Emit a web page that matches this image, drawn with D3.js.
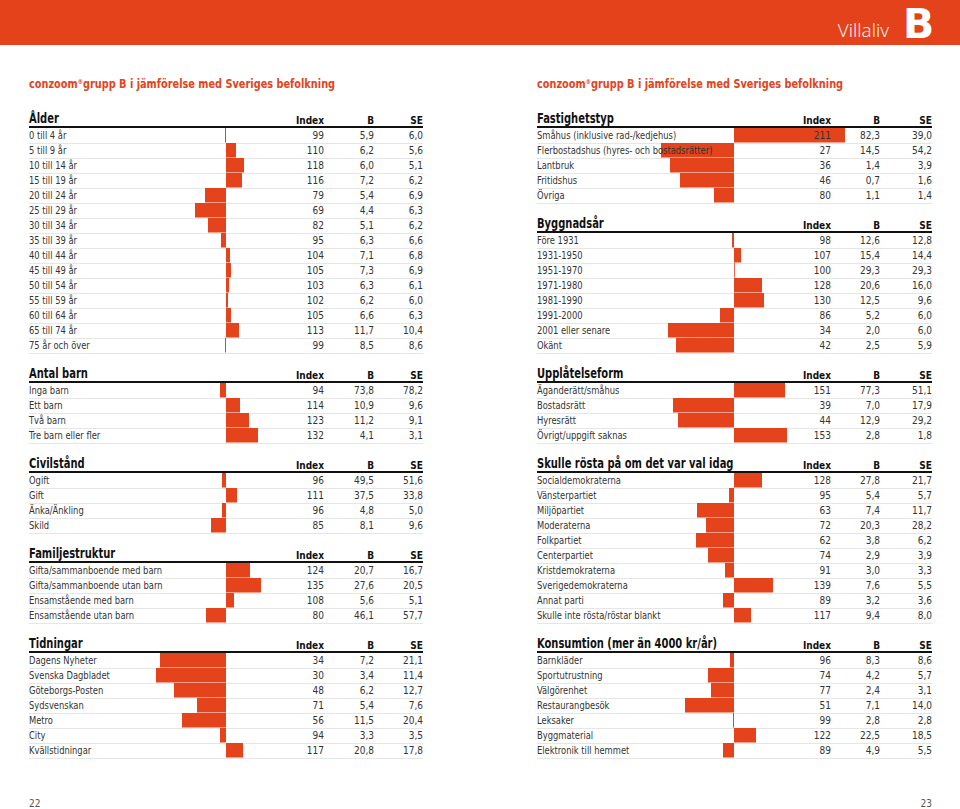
<!DOCTYPE html>
<html><head><meta charset="utf-8">
<script src="https://cdn.jsdelivr.net/npm/d3@7"></script>
<style>
html,body{margin:0;padding:0;background:#fff;}
svg{display:block;}
text{font-family:"DejaVu Sans Condensed","Liberation Sans Narrow","Roboto",sans-serif;}
</style></head>
<body>
<svg id="c" width="960" height="809"></svg>
<script>
// ---------- DATA ----------
const alderLabels = ["0 till 4 år","5 till 9 år","10 till 14 år","15 till 19 år","20 till 24 år","25 till 29 år","30 till 34 år","35 till 39 år","40 till 44 år","45 till 49 år","50 till 54 år","55 till 59 år","60 till 64 år","65 till 74 år","75 år och över"];
const alderIndex = [99,110,118,116,79,69,82,95,104,105,103,102,105,113,99];
const alderB = [5.9,6.2,6.0,7.2,5.4,4.4,5.1,6.3,7.1,7.3,6.3,6.2,6.6,11.7,8.5];
const alderSE = [6.0,5.6,5.1,6.2,6.9,6.3,6.2,6.6,6.8,6.9,6.1,6.0,6.3,10.4,8.6];

const barnLabels = ["Inga barn","Ett barn","Två barn","Tre barn eller fler"];
const barnIndex = [94,114,123,132];
const barnB = [73.8,10.9,11.2,4.1];
const barnSE = [78.2,9.6,9.1,3.1];

const civilLabels = ["Ogift","Gift","Änka/Änkling","Skild"];
const civilIndex = [96,111,96,85];
const civilB = [49.5,37.5,4.8,8.1];
const civilSE = [51.6,33.8,5.0,9.6];

const familjLabels = ["Gifta/sammanboende med barn","Gifta/sammanboende utan barn","Ensamstående med barn","Ensamstående utan barn"];
const familjIndex = [124,135,108,80];
const familjB = [20.7,27.6,5.6,46.1];
const familjSE = [16.7,20.5,5.1,57.7];

const tidnLabels = ["Dagens Nyheter","Svenska Dagbladet","Göteborgs-Posten","Sydsvenskan","Metro","City","Kvällstidningar"];
const tidnIndex = [34,30,48,71,56,94,117];
const tidnB = [7.2,3.4,6.2,5.4,11.5,3.3,20.8];
const tidnSE = [21.1,11.4,12.7,7.6,20.4,3.5,17.8];

const fastLabels = ["Småhus (inklusive rad-/kedjehus)","Flerbostadshus (hyres- och bostadsrätter)","Lantbruk","Fritidshus","Övriga"];
const fastIndex = [211,27,36,46,80];
const fastB = [82.3,14.5,1.4,0.7,1.1];
const fastSE = [39.0,54.2,3.9,1.6,1.4];

const byggLabels = ["Före 1931","1931-1950","1951-1970","1971-1980","1981-1990","1991-2000","2001 eller senare","Okänt"];
const byggIndex = [98,107,100,128,130,86,34,42];
const byggB = [12.6,15.4,29.3,20.6,12.5,5.2,2.0,2.5];
const byggSE = [12.8,14.4,29.3,16.0,9.6,6.0,6.0,5.9];

const upplLabels = ["Äganderätt/småhus","Bostadsrätt","Hyresrätt","Övrigt/uppgift saknas"];
const upplIndex = [151,39,44,153];
const upplB = [77.3,7.0,12.9,2.8];
const upplSE = [51.1,17.9,29.2,1.8];

const rostaLabels = ["Socialdemokraterna","Vänsterpartiet","Miljöpartiet","Moderaterna","Folkpartiet","Centerpartiet","Kristdemokraterna","Sverigedemokraterna","Annat parti","Skulle inte rösta/röstar blankt"];
const rostaIndex = [128,95,63,72,62,74,91,139,89,117];
const rostaB = [27.8,5.4,7.4,20.3,3.8,2.9,3.0,7.6,3.2,9.4];
const rostaSE = [21.7,5.7,11.7,28.2,6.2,3.9,3.3,5.5,3.6,8.0];

const konsLabels = ["Barnkläder","Sportutrustning","Välgörenhet","Restaurangbesök","Leksaker","Byggmaterial","Elektronik till hemmet"];
const konsIndex = [96,74,77,51,99,122,89];
const konsB = [8.3,4.2,2.4,7.1,2.8,22.5,4.9];
const konsSE = [8.6,5.7,3.1,14.0,2.8,18.5,5.5];

const colHeaders = ["Index","B","SE"];
const subtitle = "grupp B i jämförelse med Sveriges befolkning";

// ---------- LAYOUT ----------
const ORANGE = "#e4431b";
const svg = d3.select("#c");
const loc = d3.formatLocale({decimal:",",thousands:" ",grouping:[3],currency:["",""]});
const f1 = loc.format(".1f");

svg.append("rect").attr("x",0).attr("y",0).attr("width",960).attr("height",45).attr("fill","#e3421a");
svg.append("text").attr("x",889).attr("y",37).attr("text-anchor","end").attr("fill","#fff")
  .style("font-size","19px").style("font-family","'Open Sans','DejaVu Sans',sans-serif").style("font-weight","300").text("Villaliv");
svg.append("text").attr("x",903).attr("y",38).attr("fill","#fff")
  .style("font-size","41px").style("font-weight","bold").style("font-family","'DejaVu Sans',sans-serif").text("B");

function sub(x){
  const t = svg.append("text").attr("transform",`translate(${x},88) scale(0.835,1)`).attr("fill",ORANGE)
    .style("font-size","13px").style("font-weight","bold");
  t.append("tspan").text("conzoom");
  t.append("tspan").attr("dy",-4).style("font-size","7px").text("®");
  t.append("tspan").attr("dy",4).text(subtitle);
}
sub(29); sub(537);

const cols = {
  left:  {x0:29, base:226, idx:324, b:374, se:423},
  right: {x0:537, base:734, idx:831, b:880, se:932}
};

function section(col, title, labels, idx, B, SE, lineY){
  const c = cols[col];
  const ROW = 15;
  const g = svg.append("g");
  const x = d3.scaleLinear().domain([0,100]).range([c.base-100, c.base]);
  const y = d3.scaleBand().domain(d3.range(labels.length)).range([lineY+1, lineY+1+ROW*labels.length]).paddingInner(0);
  // title
  g.append("text").attr("transform",`translate(${c.x0},${lineY-4}) scale(0.79,1)`).attr("fill","#111")
    .style("font-size","14px").style("font-weight","bold").text(title);
  [c.idx,c.b,c.se].forEach((px,i)=>{
    g.append("text").attr("x",px).attr("y",lineY-3).attr("text-anchor","end").attr("fill","#111")
      .style("font-size","10px").style("font-weight","bold").text(colHeaders[i]);
  });
  // separators
  g.selectAll("line.sep").data(labels).join("line")
    .attr("x1",c.x0).attr("x2",c.se)
    .attr("y1",(d,i)=>y(i)+y.bandwidth()+0.5).attr("y2",(d,i)=>y(i)+y.bandwidth()+0.5)
    .attr("stroke","#e0e0e0").attr("stroke-width",0.8);
  // bars
  g.selectAll("rect.bar").data(idx).join("rect")
    .attr("x",d=>Math.min(x(d),x(100)))
    .attr("width",d=>Math.max(Math.abs(x(d)-x(100)),0.8))
    .attr("y",(d,i)=>y(i)).attr("height",y.bandwidth()-0.5)
    .attr("fill",ORANGE);
  // header line
  g.append("line").attr("x1",c.x0).attr("x2",c.se).attr("y1",lineY).attr("y2",lineY)
    .attr("stroke","#111").attr("stroke-width",2);
  // texts
  const ty = i => y(i)+11;
  const tg = g.append("g").style("font-size","10px").attr("fill","#333");
  tg.selectAll("text.l").data(labels).join("text")
    .attr("transform",(d,i)=>`translate(${c.x0},${ty(i)}) scale(0.93,1)`).text(d=>d);
  tg.selectAll("text.i").data(idx).join("text").attr("x",c.idx).attr("y",(d,i)=>ty(i)).attr("text-anchor","end").text(d=>d);
  tg.selectAll("text.b").data(B).join("text").attr("x",c.b).attr("y",(d,i)=>ty(i)).attr("text-anchor","end").text(d=>f1(d));
  tg.selectAll("text.s").data(SE).join("text").attr("x",c.se).attr("y",(d,i)=>ty(i)).attr("text-anchor","end").text(d=>f1(d));
  return lineY + ROW*labels.length + 30;
}

let yl = 127;
yl = section("left","Ålder",alderLabels,alderIndex,alderB,alderSE,yl);
yl = section("left","Antal barn",barnLabels,barnIndex,barnB,barnSE,yl);
yl = section("left","Civilstånd",civilLabels,civilIndex,civilB,civilSE,yl);
yl = section("left","Familjestruktur",familjLabels,familjIndex,familjB,familjSE,yl);
yl = section("left","Tidningar",tidnLabels,tidnIndex,tidnB,tidnSE,yl);

let yr = 127;
yr = section("right","Fastighetstyp",fastLabels,fastIndex,fastB,fastSE,yr);
yr = section("right","Byggnadsår",byggLabels,byggIndex,byggB,byggSE,yr);
yr = section("right","Upplåtelseform",upplLabels,upplIndex,upplB,upplSE,yr);
yr = section("right","Skulle rösta på om det var val idag",rostaLabels,rostaIndex,rostaB,rostaSE,yr);
yr = section("right","Konsumtion (mer än 4000 kr/år)",konsLabels,konsIndex,konsB,konsSE,yr);

svg.append("text").attr("x",29).attr("y",807).attr("fill","#555").style("font-size","10px").text("22");
svg.append("text").attr("x",932).attr("y",807).attr("text-anchor","end").attr("fill","#555").style("font-size","10px").text("23");
</script>
</body></html>
